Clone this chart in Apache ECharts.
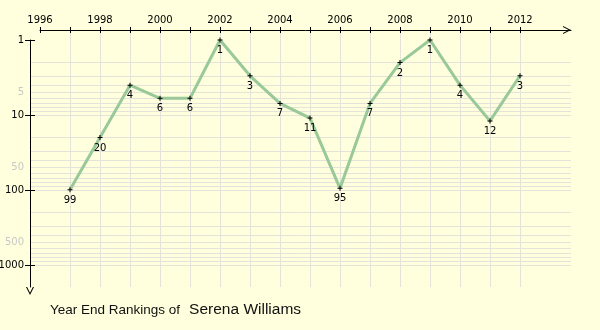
<!DOCTYPE html>
<html>
<head>
<meta charset="utf-8">
<script src="https://cdn.jsdelivr.net/npm/echarts@6/dist/echarts.min.js"></script>
<style>
  html, body { margin: 0; padding: 0; background: #ffffdd; }
  #chart { width: 600px; height: 330px; }
</style>
</head>
<body>
<div id="chart"></div>
<script>
// Year-end WTA rankings
const years = [1997, 1998, 1999, 2000, 2001, 2002, 2003, 2004, 2005, 2006, 2007, 2008, 2009, 2010, 2011, 2012];
const rankings = [99, 20, 4, 6, 6, 1, 3, 7, 11, 95, 7, 2, 1, 4, 12, 3];

// Axis ticks and labels
const yearTicks = [1996, 1997, 1998, 1999, 2000, 2001, 2002, 2003, 2004, 2005, 2006, 2007, 2008, 2009, 2010, 2011, 2012];
const yearLabels = [1996, 1998, 2000, 2002, 2004, 2006, 2008, 2010, 2012];
const rankTicks = [1, 10, 100, 1000];
const rankLabels = [1, 5, 10, 50, 100, 500, 1000];
const rankGridLines = [2, 3, 4, 5, 6, 7, 8, 9, 10, 20, 30, 40, 50, 60, 70, 80, 90, 100, 200, 300, 400, 500, 600, 700, 800, 900, 1000];

const titlePrefix = 'Year End Rankings of';
const playerName = 'Serena Williams';

// Layout: the plotting box, and the axis lines sit inset from its top/left edge
const box = { left: 30, top: 30, right: 571, bottom: 287 };
const inset = 10;
const pxPerYear = 30;
const pxPerDecade = 75;
const firstYear = yearTicks[0];

const boxW = box.right - box.left;
const boxH = box.bottom - box.top;
const xMax = firstYear + (boxW - inset) / pxPerYear;
const xFullMin = firstYear - inset / pxPerYear;
const yMax = Math.pow(10, (boxH - inset) / pxPerDecade);
const yFullMin = Math.pow(10, -inset / pxPerDecade);

const gridColor = '#e3e3da';
const font = 'DejaVu Sans';
const chevron = 'path://M0,10 L5,0 L10,10 L8.6,10 L5,2.8 L1.4,10 Z';
const plain = v => String(Math.round(Number(v)));

const points = years.map((y, i) => [y, rankings[i]]);

const chart = echarts.init(document.getElementById('chart'), null, { renderer: 'canvas' });

chart.setOption({
  backgroundColor: '#ffffdd',
  animation: false,
  title: {
    left: 50,
    top: 302,
    padding: 0,
    text: '{a|' + titlePrefix + '}{b|' + playerName + '}',
    textStyle: {
      fontWeight: 'normal',
      rich: {
        a: { fontFamily: 'Liberation Sans', fontSize: 13.5, fontWeight: 'normal', color: '#111' },
        b: { fontFamily: 'Liberation Sans', fontSize: 15.5, fontWeight: 'normal', color: '#111', padding: [0, 0, 0, 9] }
      }
    }
  },
  grid: [
    { left: box.left, top: box.top, width: boxW, height: boxH, outerBoundsMode: 'none' },
    { left: box.left + inset, top: box.top + inset, width: boxW - inset, height: boxH - inset, outerBoundsMode: 'none' }
  ],
  xAxis: [
    {
      gridIndex: 0, type: 'value', min: xFullMin, max: xMax,
      axisLine: { show: false }, axisLabel: { show: false },
      axisTick: { show: false, customValues: years },
      splitLine: { show: true, lineStyle: { color: gridColor, width: 1 } }
    },
    {
      gridIndex: 1, type: 'value', position: 'top', offset: inset, min: firstYear, max: xMax,
      axisLine: {
        show: true, symbol: ['none', chevron], symbolSize: [8, 8], symbolOffset: [0, -4],
        lineStyle: { color: '#000', width: 1 }
      },
      axisTick: { show: true, length: 3, customValues: yearTicks, lineStyle: { color: '#000' } },
      axisLabel: { show: true, customValues: yearLabels, margin: 5, fontSize: 10, fontFamily: font, color: '#000', formatter: plain },
      splitLine: { show: false }
    },
    {
      gridIndex: 1, type: 'value', position: 'top', offset: inset, min: firstYear, max: xMax,
      axisLine: { show: false }, axisLabel: { show: false },
      axisTick: { show: true, inside: true, length: 3, customValues: yearTicks, lineStyle: { color: '#000' } },
      splitLine: { show: false }
    }
  ],
  yAxis: [
    {
      gridIndex: 0, type: 'log', logBase: 10, inverse: true, min: yFullMin, max: yMax,
      axisLine: { show: false }, axisLabel: { show: false },
      axisTick: { show: false, customValues: rankGridLines },
      splitLine: { show: true, lineStyle: { color: gridColor, width: 1 } }
    },
    {
      gridIndex: 1, type: 'log', logBase: 10, inverse: true, position: 'left', offset: inset, min: 1, max: yMax,
      axisLine: {
        show: true, symbol: [chevron, 'none'], symbolSize: [8, 8], symbolOffset: [-4, 0],
        lineStyle: { color: '#000', width: 1 }
      },
      axisTick: { show: true, length: 5, customValues: rankTicks, lineStyle: { color: '#000' } },
      axisLabel: {
        show: true, customValues: rankLabels, margin: 6, fontSize: 10, fontFamily: font, formatter: plain,
        color: function (v) {
          const l = Math.log10(Number(v));
          return Math.abs(l - Math.round(l)) < 1e-6 ? '#000' : '#c8c8c8';
        }
      },
      splitLine: { show: false }
    },
    {
      gridIndex: 1, type: 'log', logBase: 10, inverse: true, position: 'left', offset: inset, min: 1, max: yMax,
      axisLine: { show: false }, axisLabel: { show: false },
      axisTick: { show: true, inside: true, length: 5, customValues: rankTicks, lineStyle: { color: '#000' } },
      splitLine: { show: false }
    }
  ],
  series: [
    {
      type: 'line',
      xAxisIndex: 0,
      yAxisIndex: 0,
      data: points,
      lineStyle: { color: '#99c899', width: 3 },
      symbol: 'path://M2,0 L3,0 L3,2 L5,2 L5,3 L3,3 L3,5 L2,5 L2,3 L0,3 L0,2 L2,2 Z',
      symbolSize: 5,
      itemStyle: { color: '#000' },
      label: {
        show: true, position: 'bottom', distance: 3,
        fontSize: 10, fontFamily: font, color: '#000',
        formatter: p => String(p.value[1])
      },
      z: 3
    }
  ]
});
</script>
</body>
</html>
